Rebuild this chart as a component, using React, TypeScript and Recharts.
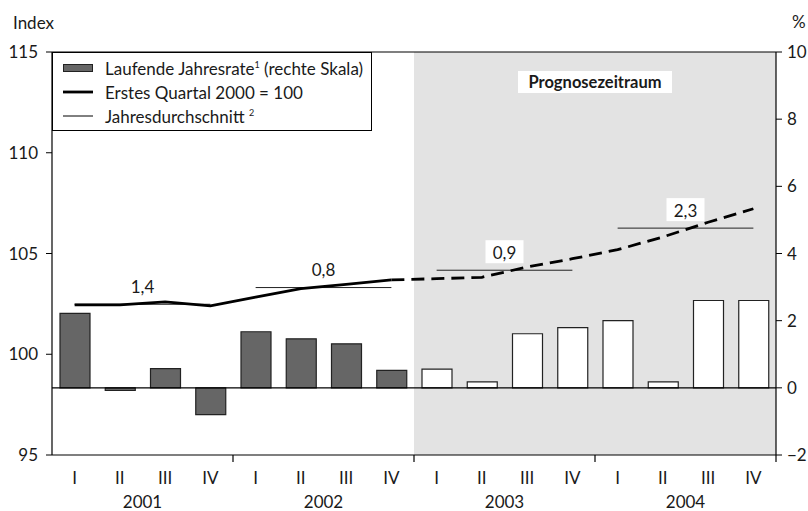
import React from 'react';
import {
  ComposedChart,
  Bar,
  Line,
  XAxis,
  YAxis,
  ReferenceArea,
  ReferenceLine,
  Cell,
  Legend,
} from 'recharts';

// ---- data ----
const quarterLabels = ['I', 'II', 'III', 'IV', 'I', 'II', 'III', 'IV', 'I', 'II', 'III', 'IV', 'I', 'II', 'III', 'IV'];
const quarterYears = ['2001', '2001', '2001', '2001', '2002', '2002', '2002', '2002', '2003', '2003', '2003', '2003', '2004', '2004', '2004', '2004'];
const annualRate = [2.22, -0.08, 0.57, -0.8, 1.67, 1.46, 1.31, 0.52, 0.56, 0.18, 1.61, 1.79, 2.0, 0.18, 2.6, 2.6];
const isForecast = [false, false, false, false, false, false, false, false, true, true, true, true, true, true, true, true];
const indexActual = [102.45, 102.45, 102.6, 102.4, 102.84, 103.26, 103.47, 103.69, null, null, null, null, null, null, null, null];
const indexForecast = [null, null, null, null, null, null, null, 103.69, 103.75, 103.82, 104.33, 104.74, 105.19, 105.82, 106.55, 107.22];
const years = ['2001', '2002', '2003', '2004'];
const yearAverage = [102.48, 103.31, 104.17, 106.26];
const yearAverageRate = ['1,4', '0,8', '0,9', '2,3'];
const yearLabelBoxed = [false, false, true, true];
const leftTicks = [95, 100, 105, 110, 115];
const rightTicks = [-2, 0, 2, 4, 6, 8, 10];

const data = quarterLabels.map((q, i) => ({
  key: `${quarterYears[i]}-${q}`,
  year: quarterYears[i],
  rate: annualRate[i],
  idx: indexActual[i],
  idxF: indexForecast[i],
}));

// ---- layout / style ----
const FONT = 'Lato, "Open Sans", sans-serif';
const FS = 17;
const TEXT = '#1a1a1a';
const CHART_W = 808;
const CHART_H = 511;
const LEFT_W = 52;
const RIGHT_W = 32;
const BAND = (CHART_W - LEFT_W - RIGHT_W) / data.length;

const QuarterTick = (props: any) => {
  const { x, y, payload } = props;
  const q = String(payload.value).split('-')[1];
  const half = BAND / 2;
  return (
    <g>
      {q === 'IV' && <line x1={x + half} x2={x + half} y1={y} y2={y + 7} stroke="#000" strokeWidth={1.2} />}
      <text x={x} y={y + 22} textAnchor="middle" dominantBaseline="central" fontSize={FS} fontFamily={FONT} fill={TEXT}>
        {q}
      </text>
    </g>
  );
};

const YearTick = (props: any) => {
  const { x, y, payload } = props;
  return (
    <text x={x} y={y + 16} textAnchor="middle" dominantBaseline="central" fontSize={FS} fontFamily={FONT} fill={TEXT}>
      {payload.value}
    </text>
  );
};

const fmtRight = (v: number) => (v < 0 ? `\u2212${Math.abs(v)}` : `${v}`);

const ForecastLabel = (props: any) => {
  const { viewBox } = props;
  const cx = viewBox.x + viewBox.width / 2;
  const cy = viewBox.y + 30;
  return (
    <g>
      <rect x={cx - 77} y={cy - 11} width={154} height={22} fill="#fff" />
      <text x={cx} y={cy} textAnchor="middle" dominantBaseline="central" fontSize={16.5} fontWeight="bold" fontFamily={FONT} fill={TEXT}>
        Prognosezeitraum
      </text>
    </g>
  );
};

const makeAvgLabel = (text: string, boxed: boolean) => (props: any) => {
  const { viewBox } = props;
  const cx = viewBox.x + viewBox.width / 2;
  const cy = viewBox.y - 18;
  return (
    <g>
      {boxed && <rect x={cx - 19} y={cy - 12} width={38} height={23} fill="#fff" />}
      <text x={cx} y={cy} textAnchor="middle" dominantBaseline="central" fontSize={FS} fontFamily={FONT} fill={TEXT}>
        {text}
      </text>
    </g>
  );
};

const legendItems = [
  { kind: 'bar', label: 'Laufende Jahresrate', sup: '1', rest: ' (rechte Skala)' },
  { kind: 'thick', label: 'Erstes Quartal 2000 = 100', sup: '', rest: '' },
  { kind: 'thin', label: 'Jahresdurchschnitt ', sup: '2', rest: '' },
];

const LegendBox = () => (
  <div
    style={{
      width: 320,
      height: 79,
      boxSizing: 'border-box',
      border: '1.2px solid #000',
      background: '#fff',
      paddingTop: 3,
      fontFamily: FONT,
      fontSize: FS,
      color: TEXT,
    }}
  >
    {legendItems.map((it) => (
      <div key={it.label} style={{ display: 'flex', alignItems: 'center', height: 24, whiteSpace: 'nowrap' }}>
        <svg width={52} height={14} style={{ flex: 'none' }}>
          {it.kind === 'bar' && <rect x={10.5} y={3.5} width={29} height={7} fill="#666" stroke="#222" strokeWidth={1} />}
          {it.kind === 'thick' && <line x1={10} x2={40} y1={7} y2={7} stroke="#000" strokeWidth={2.8} />}
          {it.kind === 'thin' && <line x1={10} x2={40} y1={7} y2={7} stroke="#000" strokeWidth={1} />}
        </svg>
        <span>
          {it.label}
          {it.sup && <sup style={{ fontSize: 9 }}>{it.sup}</sup>}
          {it.rest}
        </span>
      </div>
    ))}
  </div>
);

export default function App() {
  return (
    <div style={{ position: 'fixed', left: 0, top: 0, width: CHART_W, height: CHART_H, background: '#fff' }}>
      <ComposedChart width={CHART_W} height={CHART_H} data={data} margin={{ top: 52, right: 0, bottom: 0, left: 0 }}>
        <XAxis
          dataKey="key"
          interval={0}
          height={30}
          tickSize={0}
          tickMargin={0}
          tickLine={false}
          axisLine={{ stroke: '#000', strokeWidth: 1.2 }}
          tick={<QuarterTick />}
        />
        <XAxis
          xAxisId="year"
          dataKey="year"
          allowDuplicatedCategory={false}
          interval={0}
          height={26}
          tickSize={0}
          tickMargin={0}
          tickLine={false}
          axisLine={false}
          tick={<YearTick />}
        />
        <YAxis
          yAxisId="left"
          domain={[95, 115]}
          ticks={leftTicks}
          width={LEFT_W}
          tickSize={6}
          tickMargin={8}
          axisLine={{ stroke: '#000', strokeWidth: 1.2 }}
          tickLine={{ stroke: '#000' }}
          tick={{ fontSize: FS, fontFamily: FONT, fill: TEXT }}
          label={{
            content: (p: any) => (
              <text x={13} y={p.viewBox.y - 30} dominantBaseline="central" fontSize={FS} fontFamily={FONT} fill={TEXT}>
                Index
              </text>
            ),
          }}
        />
        <YAxis
          yAxisId="right"
          orientation="right"
          domain={[-2, 10]}
          ticks={rightTicks}
          width={RIGHT_W}
          tickSize={6}
          tickMargin={5}
          tickFormatter={fmtRight}
          axisLine={{ stroke: '#000', strokeWidth: 1.2 }}
          tickLine={{ stroke: '#000' }}
          tick={{ fontSize: FS, fontFamily: FONT, fill: TEXT }}
          label={{
            content: (p: any) => (
              <text x={p.viewBox.x + 16} y={p.viewBox.y - 31} dominantBaseline="central" fontSize={FS} fontFamily={FONT} fill={TEXT}>
                %
              </text>
            ),
          }}
        />
        <ReferenceArea
          yAxisId="left"
          x1={data[isForecast.indexOf(true)].key}
          x2={data[data.length - 1].key}
          fill="#e3e3e3"
          fillOpacity={1}
          stroke="none"
          label={<ForecastLabel />}
        />
        <ReferenceLine yAxisId="left" y={115} stroke="#000" strokeWidth={1.2} />
        <ReferenceLine yAxisId="right" y={0} stroke="#000" strokeWidth={1.2} />
        <Bar yAxisId="right" dataKey="rate" barSize={30} isAnimationActive={false}>
          {data.map((d, i) => (
            <Cell key={d.key} fill={isForecast[i] ? '#ffffff' : '#666666'} stroke="#222" strokeWidth={1.2} />
          ))}
        </Bar>
        {years.map((y, i) => (
          <ReferenceLine
            key={y}
            yAxisId="left"
            segment={[
              { x: `${y}-I`, y: yearAverage[i] },
              { x: `${y}-IV`, y: yearAverage[i] },
            ]}
            stroke="#222"
            strokeWidth={1}
            label={{ content: makeAvgLabel(yearAverageRate[i], yearLabelBoxed[i]) }}
          />
        ))}
        <Line yAxisId="left" dataKey="idx" stroke="#000" strokeWidth={2.8} dot={false} activeDot={false} isAnimationActive={false} />
        <Line
          yAxisId="left"
          dataKey="idxF"
          stroke="#000"
          strokeWidth={2.8}
          strokeDasharray="13 7"
          dot={false}
          activeDot={false}
          isAnimationActive={false}
        />
        <Legend
          layout="horizontal"
          verticalAlign="middle"
          align="center"
          wrapperStyle={{ top: 52, left: 52, width: 'auto', margin: 0 }}
          content={() => <LegendBox />}
        />
      </ComposedChart>
    </div>
  );
}
